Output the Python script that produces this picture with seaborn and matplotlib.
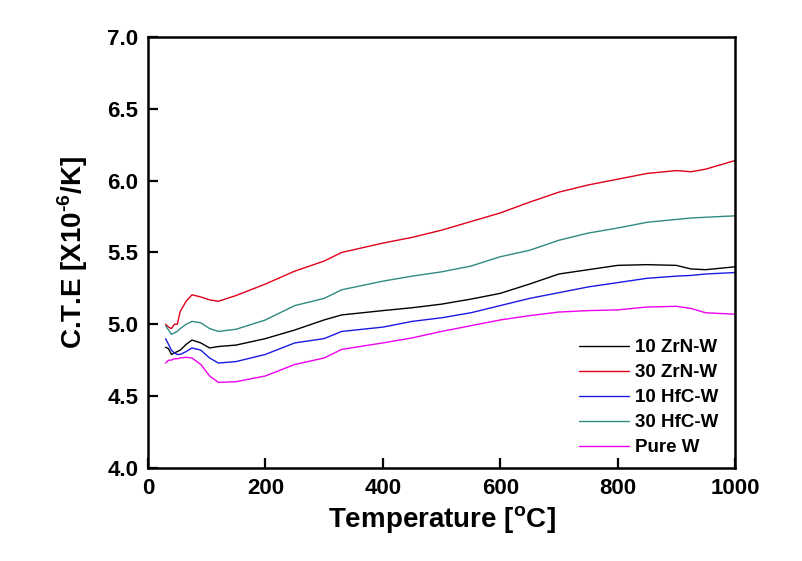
import numpy as np
import pandas as pd
import seaborn as sns
import matplotlib.pyplot as plt

# temperature grid (deg C)
temp = [30, 35, 40, 45, 50, 55, 65, 75, 90, 105, 120, 150, 200, 250, 300, 330,
        400, 450, 500, 550, 600, 650, 700, 750, 800, 850, 900, 925, 950, 1000]

# C.T.E values (x10^-6 /K) per sample
zrn10 = [4.84, 4.83, 4.79, 4.80, 4.81, 4.82, 4.86, 4.89, 4.87, 4.835, 4.845, 4.855, 4.90, 4.96, 5.03, 5.065,
         5.095, 5.115, 5.14, 5.175, 5.215, 5.28, 5.35, 5.38, 5.41, 5.415, 5.41, 5.385, 5.38, 5.40]
zrn30 = [5.00, 4.98, 4.97, 5.00, 5.00, 5.09, 5.16, 5.205, 5.19, 5.17, 5.16, 5.20, 5.28, 5.37, 5.44, 5.50,
         5.565, 5.605, 5.655, 5.715, 5.775, 5.85, 5.92, 5.97, 6.01, 6.05, 6.07, 6.062, 6.08, 6.14]
hfc10 = [4.90, 4.86, 4.82, 4.80, 4.79, 4.79, 4.81, 4.835, 4.82, 4.765, 4.73, 4.74, 4.79, 4.87, 4.90, 4.95,
         4.98, 5.02, 5.045, 5.08, 5.13, 5.18, 5.22, 5.26, 5.29, 5.32, 5.335, 5.34, 5.35, 5.36]
hfc30 = [4.99, 4.96, 4.93, 4.94, 4.95, 4.97, 5.00, 5.02, 5.01, 4.97, 4.95, 4.965, 5.03, 5.13, 5.18, 5.24,
         5.30, 5.335, 5.365, 5.405, 5.47, 5.515, 5.585, 5.635, 5.67, 5.71, 5.73, 5.74, 5.745, 5.755]
pure_w = [4.73, 4.75, 4.75, 4.76, 4.76, 4.765, 4.77, 4.765, 4.72, 4.64, 4.595, 4.60, 4.64, 4.72, 4.765, 4.825,
          4.87, 4.905, 4.95, 4.99, 5.03, 5.06, 5.085, 5.095, 5.10, 5.12, 5.125, 5.11, 5.08, 5.07]

labels = ['10 ZrN-W', '30 ZrN-W', '10 HfC-W', '30 HfC-W', 'Pure W']
colors = ['black', '#e0001a', '#1a1ae6', '#2f8a80', '#ee00ee']

frames = []
for lab, vals in zip(labels, [zrn10, zrn30, hfc10, hfc30, pure_w]):
    frames.append(pd.DataFrame({'Temperature': temp, 'CTE': vals, 'Sample': lab}))
df = pd.concat(frames, ignore_index=True)

sns.set_style('ticks')
plt.rcParams['font.family'] = ['Liberation Sans', 'DejaVu Sans']
plt.rcParams['font.weight'] = 'bold'
plt.rcParams['text.color'] = 'black'
plt.rcParams['axes.labelcolor'] = 'black'
plt.rcParams['xtick.color'] = 'black'
plt.rcParams['ytick.color'] = 'black'
plt.rcParams['mathtext.fontset'] = 'custom'
plt.rcParams['mathtext.rm'] = 'Liberation Sans:bold'
plt.rcParams['mathtext.bf'] = 'Liberation Sans:bold'

fig = plt.figure(figsize=(8.02, 5.61), dpi=100)
ax = fig.add_axes([0.1845, 0.166, 0.732, 0.768])

sns.lineplot(data=df, x='Temperature', y='CTE', hue='Sample', hue_order=labels,
             palette=colors, linewidth=1, ax=ax)

ax.set_xlim(0, 1000)
ax.set_ylim(4.0, 7.0)
ax.set_xticks([0, 200, 400, 600, 800, 1000])
ax.set_yticks([4.0, 4.5, 5.0, 5.5, 6.0, 6.5, 7.0])
ax.set_yticklabels(['4.0', '4.5', '5.0', '5.5', '6.0', '6.5', '7.0'])
ax.tick_params(direction='in', length=7, width=1.6, labelsize=16, pad=7,
               bottom=True, left=True, top=False, right=False)
for t in ax.get_xticklabels() + ax.get_yticklabels():
    t.set_fontweight('bold')
for s in ax.spines.values():
    s.set_visible(True)
    s.set_linewidth(1.8)
    s.set_color('black')

ax.set_xlabel(r'Temperature [$^{\mathbf{o}}$C]', fontsize=20, fontweight='bold', labelpad=4)
ax.set_ylabel(r'C.T.E [X10$^{\text{-6}}$/K]', fontsize=20, fontweight='bold', labelpad=12)

leg = ax.legend(loc='lower right', bbox_to_anchor=(1.0, -0.012), frameon=False,
                fontsize=13.5, handlelength=2.7, handletextpad=0.3, labelspacing=0.42)
for t in leg.get_texts():
    t.set_fontweight('bold')

fig.savefig('out.png', dpi=100)
